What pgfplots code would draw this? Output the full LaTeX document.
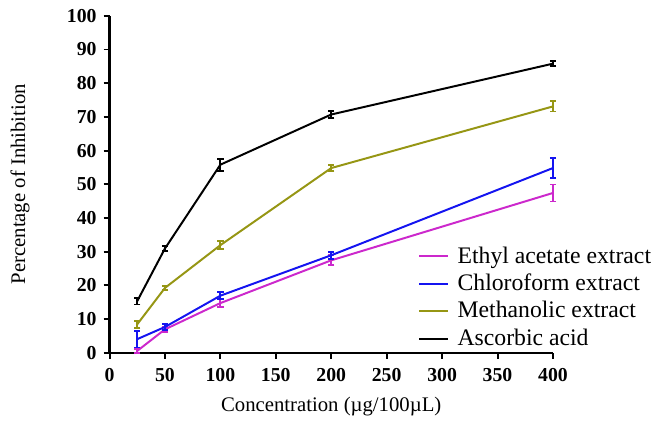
\documentclass[border=0pt]{standalone}
\usepackage{fontspec}
\setmainfont{Liberation Serif}
\usepackage{pgfplots}
\pgfplotsset{compat=1.18}
\definecolor{cEthyl}{RGB}{204,40,204}
\definecolor{cChlo}{RGB}{20,20,240}
\definecolor{cMeth}{RGB}{150,150,20}
\begin{document}
\begin{tikzpicture}
\begin{axis}[
  scale only axis,
  width=224.5pt, height=170.5pt,
  xmin=0, xmax=400, ymin=0, ymax=100,
  axis x line*=bottom, axis y line*=left,
  axis line style={line width=1.1pt, -},
  tick style={line width=1pt, black},
  tick align=outside, major tick length=3pt,
  xtick={0,50,...,400}, ytick={0,10,...,100},
  tick label style={font=\rmfamily\bfseries\fontsize{10}{12}\selectfont},
  xticklabel style={yshift=-1.5pt},
  /pgf/number format/assume math mode=true,
  xlabel={Concentration (\textmu g/100\textmu L)},
  ylabel={Percentage of Inhibition},
  label style={font=\rmfamily\fontsize{10.5}{12}\selectfont},
  xlabel style={yshift=-1pt},
  ylabel style={yshift=12pt},
  clip=false,
  legend style={draw=none, fill=none, inner sep=0pt, at={(0.695,0.0)}, anchor=south west,
    font=\rmfamily\fontsize{12}{14}\selectfont, row sep=0pt, cells={anchor=west}},
  legend cell align=left,
  legend image code/.code={\draw[#1, line width=1pt] (0pt,0pt) -- (14.5pt,0pt); \path (17pt,0pt);},
  every axis plot/.append style={line width=1pt, mark=none},
  error bars/error bar style={line width=0.9pt},
  error bars/error mark options={rotate=90, mark size=1.6pt, line width=0.9pt},
]
\addplot[cEthyl, error bars/.cd, y dir=both, y explicit] table[x=x, y=y, y error=e] {
x y e
25 0.5 0.6
50 6.9 0.7
100 14.7 1.2
200 27.4 1.5
400 47.4 2.5
};
\addlegendentry{Ethyl acetate extract}
\addplot[cChlo, error bars/.cd, y dir=both, y explicit] table[x=x, y=y, y error=e] {
x y e
25 4.0 2.5
50 7.6 0.8
100 16.9 1.0
200 28.9 1.0
400 54.8 3.0
};
\addlegendentry{Chloroform extract}
\addplot[cMeth, error bars/.cd, y dir=both, y explicit] table[x=x, y=y, y error=e] {
x y e
25 8.4 1.0
50 19.2 0.5
100 31.9 1.2
200 54.8 0.8
400 73.1 1.5
};
\addlegendentry{Methanolic extract}
\addplot[black, error bars/.cd, y dir=both, y explicit] table[x=x, y=y, y error=e] {
x y e
25 15.3 1.0
50 30.9 0.8
100 55.8 1.8
200 70.7 1.0
400 85.8 0.8
};
\addlegendentry{Ascorbic acid}
\path (rel axis cs:-0.247,-0.211) (rel axis cs:1.2116,1.047);
\end{axis}
\end{tikzpicture}
\end{document}
